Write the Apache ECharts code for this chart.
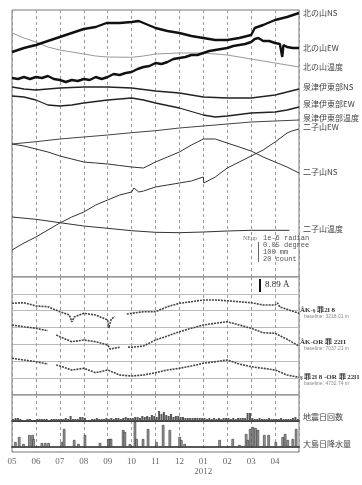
<!DOCTYPE html>
<html><head><meta charset="utf-8">
<script src="https://cdn.jsdelivr.net/npm/echarts@6/dist/echarts.min.js"></script>
<style>html,body{margin:0;padding:0;background:#fff}#c{width:362px;height:485px}</style>
</head><body><div id="c"></div>
<script>
// x = months since 2011-05-01
const monthLabels = ['05','06','07','08','09','10','11','12','01\n2012','02','03','04',''];

// top panel (display offset units)
const kitaNS = [[0,225],[0.5,229],[1,232],[1.5,236],[2,240],[2.5,244],[3,248],[3.5,250],[3.95,254],[4,252],[4.5,254],[5,255],[5.3,256],[5.5,254],[6,249],[6.5,246],[7,244],[7.5,241],[8,239],[8.5,237],[9,237],[9.5,239],[10,242],[10.15,249],[10.5,252],[11,257],[11.5,260],[12,264]];
const kitaEW = [[0,199],[0.25,198],[0.5,200],[0.75,198],[1,200],[1.25,199],[1.5,201],[1.75,198],[2,197],[2.25,195],[2.5,197],[2.75,196],[3,198],[3.25,197],[3.5,200],[3.75,198],[4,200],[4.25,203],[4.5,202],[4.75,204],[5,205],[5.25,208],[5.5,210],[5.75,211],[6,214],[6.25,213],[6.5,215],[6.75,218],[7,219],[7.25,220],[7.5,222],[7.75,222],[8,224],[8.25,226],[8.5,227],[8.75,228],[9,229],[9.25,231],[9.5,232],[9.75,233],[10,235],[10.15,238],[10.3,239],[10.5,236],[10.75,236],[11,234],[11.2,233],[11.3,220],[11.35,232],[11.5,230],[11.75,229],[12,229]];
const kitaTemp = [[0,244],[0.5,239],[1,235],[1.5,230],[2,227],[2.5,225],[3,223],[3.5,221],[4,220],[5,219.7],[5.5,221],[6,223],[7,224],[8,224],[8.5,223],[9,222],[9.5,220],[10,218],[11,214],[12,210]];
const senzuNS = [[0,190],[0.5,188],[1,187],[1.5,188],[2,189],[3,190],[4,190],[5,189],[6,186],[7,184],[8,180],[9,179],[10,179],[11,182],[11.5,185],[12,188]];
const senzuEW = [[0,181],[0.5,180],[1,177],[1.5,172],[2,171],[2.5,172],[3,174],[4,177],[5,179],[5.5,177],[6,174],[7,169],[8,162],[8.5,160],[9,161],[10,164],[11,165],[11.5,167],[12,170]];
const senzuTemp = [[0,133],[1,135.3],[2,138],[3,140],[4,142],[5,144.3],[6,146.3],[7,149],[8,151],[9,153],[10,155],[11,156],[12,157]];
const futaEW = [[0,27],[0.5,34],[1,40],[1.5,47],[2,54],[2.5,60],[3,65],[3.5,72],[4,77],[4.5,82],[5,85],[5.1,89],[5.3,85],[5.5,86],[6,90],[6.5,92],[7,94],[7.5,96],[8,100],[8.02,94],[8.5,100],[9,109],[9.5,115],[10,121],[10.5,127],[11,135],[11.5,144],[11.7,146],[12,148]];
const futaNS = [[0,133],[0.5,131],[1,128],[1.5,125],[2,121],[2.5,118],[3,115],[3.5,114],[4,113],[4.5,111.5],[5,110],[5.5,109],[6,115],[6.5,120],[7,125],[7.5,132],[8,138],[8.5,138],[9,134],[9.5,130],[10,126],[10.5,120],[11,115],[11.5,110],[12,104]];
const futaTemp = [[0,60],[1,57.7],[2,54.3],[3,51],[4,48.7],[5,46.3],[6,44.7],[7,44.3],[8,45],[9,46],[10,46.7],[11,46.7],[11.6,46.7]];

// GPS baselines (display offset units)
const gps1 = [[0,91.7],[0.5,92.3],[1,89],[1.5,88.3],[2,83.3],[2.4,80],[2.5,73],[2.6,78],[3,81.7],[3.5,80],[4,75],[4.05,67],[4.15,76],[4.3,78.3],[4.45,null],[4.8,81],[5,81.7],[5.5,83.3],[6,83.3],[6.5,88.3],[7,91.7],[7.5,93.3],[8,95],[8.5,95],[9,94.3],[9.5,93.3],[10,92.3],[10.5,90],[11,90],[11.1,92],[11.2,88],[11.5,85.7],[12,81.7]];
const gps2 = [[0,70],[0.5,68.3],[1,66.7],[1.5,64.3],[1.6,null],[1.85,60],[2,58.3],[2.5,53.3],[3,55],[3.5,53.3],[4,50],[4.1,46],[4.5,47.7],[4.6,null],[4.85,48],[5,47.7],[5.5,49],[6,55],[6.5,59],[7,63.3],[7.5,66.7],[8,70],[8.5,71.7],[9,73.3],[9.5,70],[10,66.7],[10.5,62.3],[11,61.7],[11.5,55.7],[12,49]];
const gps3 = [[0,36.7],[0.5,35],[1,33.3],[1.5,31],[1.6,null],[1.85,30],[2,29],[2.5,25],[3,26.7],[3.5,22.3],[4,25],[4.5,20],[5,19],[5.5,20],[6,22.3],[6.5,25],[7,26.7],[7.5,29],[8,31.7],[8.5,33.3],[9,35],[9.5,31],[10,28.3],[10.5,26.7],[11,25],[11.5,20],[12,17.7]];

// earthquake counts, one value per 0.1 month
const quakes = [2,3,3,2,1, 1,2,2,1,0, 2,2,2,2,2,1,2,2,2,2, 2,2,3,2,5,2,2,2,4,4, 3,1,1,2,2,3,2,2,2,3, 2,3,2,3,3,2,3,4,3,3, 3,4,4,3,5,4,5,4,6,5, 4,10,7,9,6,5,7,4,5,5, 4,4,3,3,3,3,3,3,3,3, 3,2,3,2,3,2,3,2,3,3, 3,2,3,2,3,3,3,3,8,8, 3,2,2,3,2,2,2,3,2,2, 2,2,3,2,2,2,2,3,4,2];
// daily rainfall events [month, amount]
const rain = [[0.14,5],[0.30,10],[0.48,3],[0.73,12],[0.86,12],[0.90,8],[1.25,4],[1.39,4],[1.53,4],[2.08,5],[2.18,18],[2.60,7],[2.78,3],[3.05,12],[3.68,4],[4.03,8],[4.10,8],[4.14,8],[4.65,17],[4.72,15],[4.93,3],[5.14,25],[5.21,8],[5.48,8],[5.69,18],[6.04,5],[6.32,22],[6.60,17],[7.01,10],[7.08,7],[7.22,3],[8.68,7],[9.23,8],[9.51,2],[9.79,13],[9.86,7],[9.96,18],[10.07,20],[10.18,19],[10.28,17],[10.55,12],[10.73,12],[11.03,5],[11.32,10],[11.42,13],[11.53,7],[11.74,8],[11.88,18]];

const quakeData = quakes.map((v,i)=>[i/10+0.05, v]);

const sideLabels = [
  ['北の山NS',13],['北の山EW',48],['北の山温度',67],['泉津伊東部NS',87],['泉津伊東部EW',104],
  ['泉津伊東部温度',118],['二子山EW',127],['二子山NS',172],['二子山温度',229],
  ['地震日回数',417],['大島日降水量',444]
];
const gpsLabels = [['ÅK-ş 罪2l 8','baseline: 3218.01 m',310],['ÅK-OR 罪 22l1','baseline: 7037.21 m',342],['ş 罪2l 8 -OR 罪 22l1','baseline: 4732.74 m',377]];
const scaleLines = ['1e-6 radian','0.05 degree','100 mm','20 count'];

const L = 12, W = 287;
const frame = '#777';
function xAx(gi, showLabel, onZero){
  return {type:'value', gridIndex:gi, min:0, max:12, interval:1,
    axisLine:{show:!!onZero, onZero:!!onZero, lineStyle:{color:'#222', width:onZero?1.5:2}},
    axisTick:{show:false},
    axisLabel:{show:showLabel, formatter:(v)=>monthLabels[Math.round(v)], color:'#666', fontFamily:'Liberation Serif', fontSize:9, margin:5, lineHeight:10},
    splitLine:{show:true, lineStyle:{type:[3,3], color:'#999', width:1}}};
}
function ln(name, data, gi, color, width, z, dash){
  return {name, type:'line', xAxisIndex:gi, yAxisIndex:gi, data, showSymbol:false, symbol:'none', connectNulls:false,
    lineStyle:{color, width, type: dash || 'solid'}, silent:true, animation:false, z:z||3};
}
const graphics = [];
sideLabels.forEach(([t,y])=>graphics.push({type:'text', x:303, y, style:{text:t, fill:'#444', font:'8px "Noto Sans CJK JP"', verticalAlign:'middle'}}));
gpsLabels.forEach(([t,b,y])=>{
  graphics.push({type:'text', x:300, y, style:{text:t, fill:'#333', font:'bold 7px "Liberation Serif"', verticalAlign:'middle'}});
  graphics.push({type:'text', x:304, y:y+7, style:{text:b, fill:'#888', font:'5px "Liberation Sans"', verticalAlign:'middle'}});
});
graphics.push({type:'text', x:243, y:238, style:{text:'NEup', fill:'#777', font:'6px "Liberation Serif"', verticalAlign:'middle'}});
scaleLines.forEach((t,i)=>graphics.push({type:'text', x:263, y:238+7*i, style:{text:t, fill:'#555', font:'7px "Liberation Mono"', verticalAlign:'middle'}}));
graphics.push({type:'line', shape:{x1:258.5,y1:242,x2:258.5,y2:262}, style:{stroke:'#666', lineWidth:1}});
graphics.push({type:'line', shape:{x1:260,y1:279,x2:260,y2:292}, style:{stroke:'#111', lineWidth:2}});
graphics.push({type:'text', x:265, y:285, style:{text:'8.89 Å', fill:'#222', font:'9px "Liberation Serif"', verticalAlign:'middle'}});

const option = {
  animation:false,
  backgroundColor:'#fff',
  grid:[
    {left:L, top:10, width:W, height:267, show:true, borderColor:frame, borderWidth:1},
    {left:L, top:277, width:W, height:118, show:true, borderColor:frame, borderWidth:1},
    {left:L, top:395, width:W, height:26, show:true, borderColor:frame, borderWidth:1},
    {left:L, top:421, width:W, height:31, show:true, borderColor:frame, borderWidth:1}
  ],
  xAxis:[xAx(0,false), xAx(1,false), xAx(2,false,true), xAx(3,true,true)],
  yAxis:[
    {type:'value', gridIndex:0, min:0, max:267, show:false, splitLine:{show:false}},
    {type:'value', gridIndex:1, min:0, max:118, interval:118/7, axisLabel:{show:false}, axisLine:{show:false}, axisTick:{show:false}, splitLine:{show:true, lineStyle:{color:'#bbb', width:1}}},
    {type:'value', gridIndex:2, min:0, max:26, show:false, splitLine:{show:false}},
    {type:'value', gridIndex:3, min:-5, max:26, show:false, splitLine:{show:false}}
  ],
  series:[
    ln('北の山NS', kitaNS, 0, '#111', 2.4, 5),
    ln('北の山EW', kitaEW, 0, '#111', 2.4, 5),
    ln('北の山温度', kitaTemp, 0, '#999', 1),
    ln('泉津NS', senzuNS, 0, '#222', 1.3),
    ln('泉津EW', senzuEW, 0, '#222', 1.3),
    ln('泉津温度', senzuTemp, 0, '#444', 1),
    ln('二子山EW', futaEW, 0, '#333', 1),
    ln('二子山NS', futaNS, 0, '#333', 1),
    ln('二子山温度', futaTemp, 0, '#333', 1),
    ln('gps1', gps1, 1, '#444', 1.6, 3, [2,1]),
    ln('gps2', gps2, 1, '#444', 1.6, 3, [2,1]),
    ln('gps3', gps3, 1, '#444', 1.6, 3, [2,1]),
    {type:'bar', xAxisIndex:2, yAxisIndex:2, data:quakeData, barWidth:2, itemStyle:{color:'#555'}, silent:true},
    {type:'bar', xAxisIndex:3, yAxisIndex:3, data:rain, barWidth:2.5, itemStyle:{color:'#999', borderColor:'#333', borderWidth:0.6}, silent:true}
  ],
  graphic:graphics
};
const chart = echarts.init(document.getElementById('c'), null, {renderer:'canvas'});
chart.setOption(option);
</script></body></html>
